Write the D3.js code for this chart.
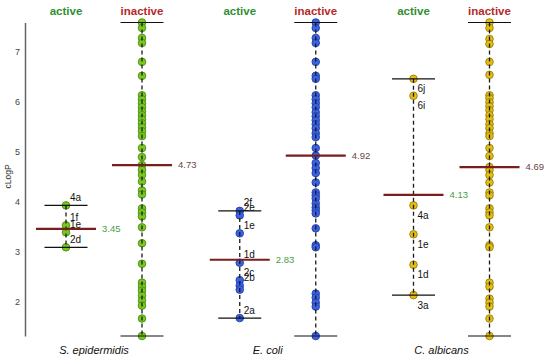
<!DOCTYPE html>
<html>
<head>
<meta charset="utf-8">
<script src="https://cdn.jsdelivr.net/npm/d3@7"></script>
<style>
  body { margin: 0; background: #fff; }
  text { font-family: "Liberation Sans", Arial, sans-serif; }
</style>
</head>
<body>
<div id="chart"></div>
<script>
var organisms = ["S. epidermidis", "E. coli", "C. albicans"];
var statuses = ["active", "inactive"];
var yTicks = [2, 3, 4, 5, 6, 7];

// cLogP of the compounds
var sepiActive = [3.92, 3.52, 3.38, 3.08];
var sepiActiveLabels = ["4a", "1f", "1e", "2d"];
var sepiInactive = [7.59, 7.48, 7.28, 7.18, 6.80, 6.52, 6.13, 6.05, 5.97, 5.89, 5.81, 5.73, 5.65,
  5.57, 5.49, 5.41, 5.31, 5.07, 4.89, 4.73, 4.63, 4.53, 4.40, 4.22, 4.14, 3.86, 3.78, 3.70,
  3.48, 3.16, 2.75, 2.37, 2.29, 2.21, 2.11, 2.01, 1.91, 1.65, 1.30];

var ecoliActive = [3.81, 3.72, 3.36, 2.77, 2.42, 2.31, 2.23, 1.66];
var ecoliActiveLabels = ["2f", "2e", "1e", "1d", "2c", "2b", "", "2a"];
var ecoliInactive = [7.59, 7.48, 7.28, 7.18, 6.80, 6.52, 6.46, 6.13, 6.05, 5.97, 5.89, 5.79, 5.71,
  5.63, 5.55, 5.47, 5.37, 5.29, 5.07, 4.92, 4.77, 4.67, 4.57, 4.38, 4.18, 4.12, 4.06, 3.96,
  3.88, 3.82, 3.76, 3.46, 3.12, 3.08, 2.15, 2.07, 1.97, 1.89, 1.30];

var calbActive = [6.46, 6.12, 3.92, 3.34, 2.73, 2.12];
var calbActiveLabels = ["6j", "6i", "4a", "1e", "1d", "3a"];
var calbInactive = [7.59, 7.48, 7.26, 7.16, 6.80, 6.54, 6.13, 6.07, 5.99, 5.91, 5.83, 5.73, 5.65,
  5.55, 5.47, 5.37, 5.31, 5.07, 4.91, 4.69, 4.63, 4.53, 4.38, 4.18, 4.12, 3.86, 3.78, 3.72,
  3.48, 3.12, 3.08, 2.37, 2.29, 2.05, 1.97, 1.89, 1.65, 1.30];

var medianActive = [3.45, 2.83, 4.13];
var medianInactive = [4.73, 4.92, 4.69];

var dotFill = ["#77c91f", "#3a62e4", "#e2bf12"];
var dotStroke = ["#4b8c12", "#2440a8", "#9c7e06"];
var labelBelow = [false, false, true];

var width = 550, height = 360;

var groups = organisms.map(function (name, i) {
  return {
    name: name,
    idx: i,
    active: [sepiActive, ecoliActive, calbActive][i],
    labels: [sepiActiveLabels, ecoliActiveLabels, calbActiveLabels][i],
    inactive: [sepiInactive, ecoliInactive, calbInactive][i],
    medians: [medianActive[i], medianInactive[i]]
  };
});

var allValues = [].concat(sepiActive, sepiInactive, ecoliActive, ecoliInactive, calbActive, calbInactive);

var svg = d3.select("#chart").append("svg")
  .attr("width", width)
  .attr("height", height);

var y = d3.scaleLinear().domain(d3.extent(allValues)).range([336, 22.5]);
var gx = d3.scaleBand().domain(organisms).range([22, 543.25]);
var sx = d3.scalePoint().domain(statuses).range([44, 120]);

// y axis: plain line + numbers, no tick marks
var yAxis = svg.append("g")
  .attr("class", "axis axis-y")
  .attr("transform", "translate(25,0)")
  .call(d3.axisLeft(y).tickValues(yTicks).tickSize(0).tickPadding(5).tickFormat(d3.format("d")));
yAxis.select(".domain").attr("stroke", "#666").attr("stroke-width", 1.5);
yAxis.selectAll("text").attr("fill", "#444").style("font-size", "9px")
  .style("font-family", "'Liberation Sans', Arial, sans-serif");

svg.append("text")
  .attr("transform", "translate(11," + y(4.5) + ") rotate(-90)")
  .attr("text-anchor", "middle")
  .attr("fill", "#333")
  .style("font-size", "8.5px")
  .text("cLogP");

groups.forEach(function (g) {
  var gg = svg.append("g").attr("transform", "translate(" + gx(g.name) + ",0)");

  gg.selectAll(".head").data(statuses).enter().append("text")
    .attr("x", function (d) { return sx(d); })
    .attr("y", 15)
    .attr("text-anchor", "middle")
    .attr("fill", function (d) { return d == "active" ? "#2f8f33" : "#b52a2a"; })
    .style("font-size", "11.5px")
    .style("font-weight", "bold")
    .text(function (d) { return d; });

  gg.append("text")
    .attr("x", 72)
    .attr("y", 354)
    .attr("text-anchor", "middle")
    .attr("fill", "#111")
    .style("font-size", "11px")
    .style("font-style", "italic")
    .text(g.name);

  statuses.forEach(function (s, k) {
    var vals = k == 0 ? g.active : g.inactive;
    var cx = sx(s);
    var ext = d3.extent(vals);

    gg.append("g").selectAll("circle").data(vals).enter().append("circle")
      .attr("cx", cx)
      .attr("cy", function (d) { return y(d); })
      .attr("r", 3.8)
      .attr("fill", dotFill[g.idx])
      .attr("stroke", dotStroke[g.idx])
      .attr("stroke-width", 0.9);

    gg.append("line")
      .attr("x1", cx).attr("x2", cx)
      .attr("y1", y(ext[1])).attr("y2", y(ext[0]))
      .attr("stroke", "#1a1a1a")
      .attr("stroke-width", 1.3)
      .attr("stroke-dasharray", "4,3");

    gg.selectAll(".cap" + k).data(ext).enter().append("line")
      .attr("x1", cx - 21.5).attr("x2", cx + 21.5)
      .attr("y1", function (d) { return y(d); })
      .attr("y2", function (d) { return y(d); })
      .attr("stroke", "#111")
      .attr("stroke-width", 1.2);

    var m = g.medians[k];
    gg.append("line")
      .attr("x1", cx - 30).attr("x2", cx + 30)
      .attr("y1", y(m)).attr("y2", y(m))
      .attr("stroke", "#7a1d1d")
      .attr("stroke-width", 2.2);

    gg.append("text")
      .attr("x", cx + 36)
      .attr("y", y(m))
      .attr("dy", "0.35em")
      .attr("fill", k == 0 ? "#4a9d4a" : "#6b4545")
      .style("font-size", "9.5px")
      .text(d3.format(".2f")(m));

    if (k == 0) {
      gg.append("g").selectAll("text").data(vals).enter().append("text")
        .attr("x", cx + 4)
        .attr("y", function (d) { return y(d) + (labelBelow[g.idx] ? 10 : -8); })
        .attr("dy", "0.35em")
        .attr("fill", "#111")
        .style("font-size", "10px")
        .text(function (d, i) { return g.labels[i]; });
    }
  });
});
</script>
</body>
</html>
